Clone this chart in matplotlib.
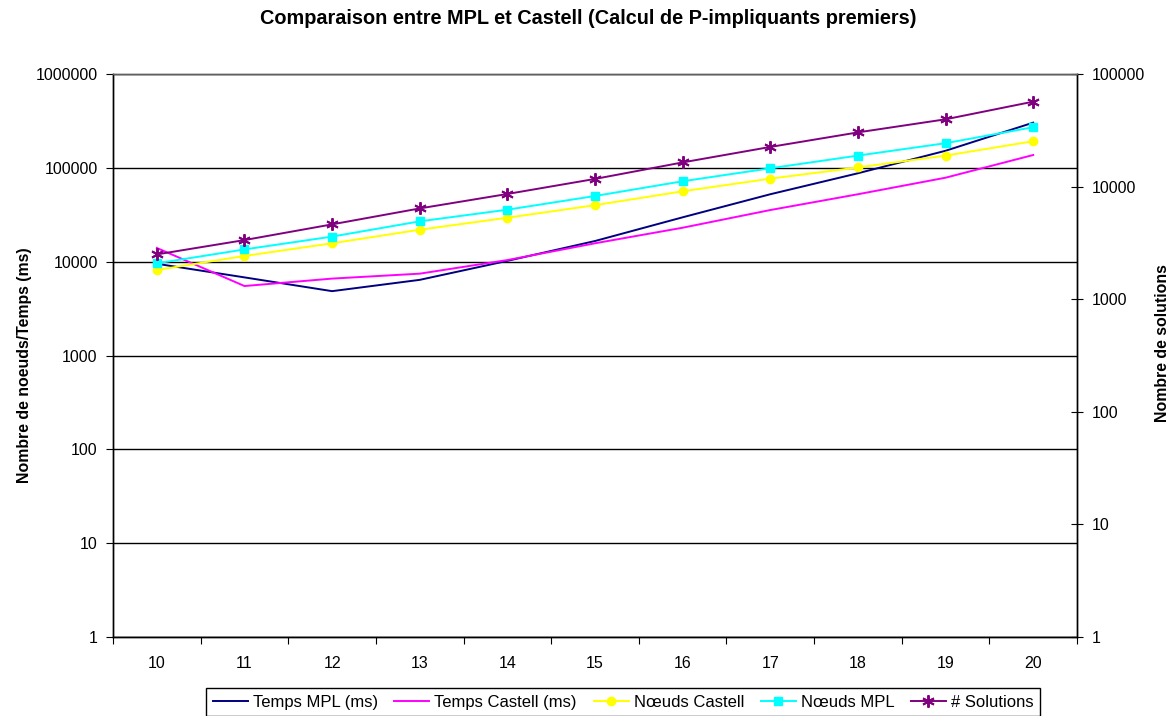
import numpy as np
import matplotlib
matplotlib.use("Agg")
import matplotlib.pyplot as plt
from matplotlib.ticker import FixedLocator, NullLocator, FuncFormatter

plt.rcParams['font.family'] = ['Liberation Sans', 'DejaVu Sans']

tailles = [10, 11, 12, 13, 14, 15, 16, 17, 18, 19, 20]

temps_mpl = [9500, 6800, 4850, 6400, 10200, 16600, 29700, 52300, 87500, 152000, 303000]
temps_castell = [14000, 5500, 6600, 7450, 10400, 15700, 23000, 35500, 52300, 78500, 137000]
noeuds_castell = [8150, 11500, 15700, 21900, 29400, 40000, 56200, 76700, 101000, 135000, 192000]
noeuds_mpl = [9600, 13500, 18500, 26900, 35800, 50100, 71900, 98900, 135000, 183000, 271000]
solutions = [2500, 3350, 4620, 6400, 8600, 11700, 16400, 22500, 30300, 39600, 56800]

left_ticks = [1, 10, 100, 1000, 10000, 100000, 1000000]
right_ticks = [1, 10, 100, 1000, 10000, 100000]

fig = plt.figure(figsize=(11.76, 7.16), dpi=100)
ax = fig.add_axes([113/1176, 1-637/716, (1077-113)/1176, (637-74)/716])
ax2 = ax.twinx()

l1, = ax.plot(tailles, temps_mpl, color='#000080', lw=1.4, label='Temps MPL (ms)')
l2, = ax.plot(tailles, temps_castell, color='#FF00FF', lw=1.4, label='Temps Castell (ms)')
l3, = ax.plot(tailles, noeuds_castell, color='#FFFF00', lw=1.4, marker='o', ms=6,
              mec='#FFFF00', label='Nœuds Castell')
l4, = ax.plot(tailles, noeuds_mpl, color='#00FFFF', lw=1.4, marker='s', ms=6,
              mec='#00FFFF', label='Nœuds MPL')
l5, = ax2.plot(tailles, solutions, color='#800080', lw=1.4, marker=(6, 2, 0), ms=9,
               mew=1.4, label='# Solutions')

fmt = FuncFormatter(lambda v, p: f'{int(round(v))}')

ax.set_yscale('log')
ax.set_ylim(1, 1000000)
ax.yaxis.set_major_locator(FixedLocator(left_ticks))
ax.yaxis.set_minor_locator(NullLocator())
ax.yaxis.set_major_formatter(fmt)
ax.grid(axis='y', color='black', lw=1.0)
ax.set_axisbelow(True)

ax2.set_yscale('log')
ax2.set_ylim(1, 100000)
ax2.yaxis.set_major_locator(FixedLocator(right_ticks))
ax2.yaxis.set_minor_locator(NullLocator())
ax2.yaxis.set_major_formatter(fmt)

ax.set_xlim(9.5, 20.5)
ax.set_xticks(np.arange(9.5, 21, 1))
ax.set_xticklabels([])
ax.set_xticks(tailles, minor=True)
ax.set_xticklabels([str(t) for t in tailles], minor=True)
ax.tick_params(axis='x', which='major', length=5, direction='out', color='black')
ax.tick_params(axis='x', which='minor', length=0, labelsize=11.5, pad=14)
ax.tick_params(axis='y', length=5, direction='out', labelsize=11.5, pad=6)
ax2.tick_params(axis='y', length=8.5, direction='inout', labelsize=11.5, pad=6.5)

for a in (ax, ax2):
    for s in a.spines.values():
        s.set_color('black')
        s.set_linewidth(1.0)
    a.spines['top'].set_color('#606060')

ax.set_ylabel('Nombre de noeuds/Temps (ms)', fontsize=11.4, fontweight='bold')
ax.yaxis.set_label_coords(-0.084, 0.483)
ax2.set_ylabel('Nombre de solutions', fontsize=11.4, fontweight='bold')
ax2.yaxis.set_label_coords(1.081, 0.522)

fig.text(0.5, 1-18/716, 'Comparaison entre MPL et Castell (Calcul de P-impliquants premiers)',
         ha='center', va='center', fontsize=14.3, fontweight='bold')

leg = fig.legend(handles=[l1, l2, l3, l4, l5], loc='upper left', ncol=5,
                 bbox_to_anchor=(206/1176, 1-688/716), fontsize=12,
                 frameon=True, fancybox=False, edgecolor='black', framealpha=1,
                 handlelength=2.1, columnspacing=1.0, handletextpad=0.3,
                 borderpad=0.4, borderaxespad=0)
leg.get_frame().set_linewidth(1.0)

fig.savefig('out.png', dpi=100)
